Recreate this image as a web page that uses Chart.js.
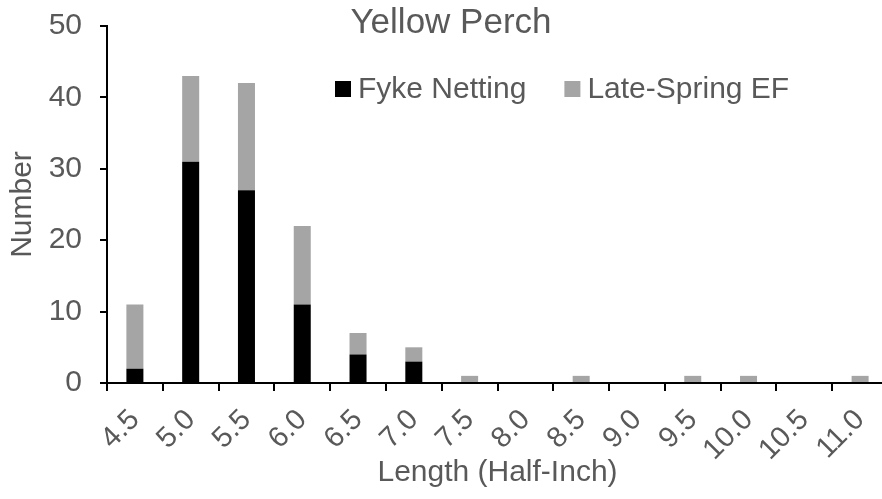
<!DOCTYPE html>
<html>
<head>
<meta charset="utf-8">
<script src="https://cdn.jsdelivr.net/npm/chart.js@4/dist/chart.umd.min.js"></script>
<style>
    html, body { margin: 0; padding: 0; background: #fff; }
    #wrap { width: 882px; height: 499px; overflow: hidden; }
    canvas { display: block; }
</style>
</head>
<body>
<div id="wrap"><canvas id="perchChart" width="888" height="499"></canvas></div>
<script>
const lengths = ['4.5', '5.0', '5.5', '6.0', '6.5', '7.0', '7.5', '8.0', '8.5', '9.0', '9.5', '10.0', '10.5', '11.0'];
const fykeNetting = [2, 31, 27, 11, 4, 3, 0, 0, 0, 0, 0, 0, 0, 0];
const lateSpringEF = [9, 12, 15, 11, 3, 2, 1, 0, 1, 0, 1, 1, 0, 1];
const yTicks = [0, 10, 20, 30, 40, 50];

const TEXT = '#595959';
const FONT = '"Liberation Sans", Arial, sans-serif';

// title + legend sit inside the plot area, so draw them by hand
const overlay = {
    id: 'overlay',
    afterDraw(chart) {
        const ctx = chart.ctx;
        ctx.save();
        ctx.fillStyle = TEXT;
        ctx.font = '35px ' + FONT;
        ctx.textAlign = 'center';
        ctx.textBaseline = 'alphabetic';
        ctx.fillText('Yellow Perch', 451, 33);

        ctx.font = '30px ' + FONT;
        ctx.textAlign = 'left';
        let x = 335;
        chart.data.datasets.forEach(ds => {
            ctx.fillStyle = ds.backgroundColor;
            ctx.fillRect(x, 81, 16, 16);
            ctx.fillStyle = TEXT;
            ctx.fillText(ds.label, x + 23, 98);
            x += 23 + ctx.measureText(ds.label).width + 38;
        });
        ctx.restore();
    }
};

new Chart(document.getElementById('perchChart'), {
    type: 'bar',
    data: {
        labels: lengths,
        datasets: [
            {
                label: 'Fyke Netting',
                data: fykeNetting,
                backgroundColor: '#000000',
                barPercentage: 0.305,
                categoryPercentage: 1.0
            },
            {
                label: 'Late-Spring EF',
                data: lateSpringEF,
                backgroundColor: '#a5a5a5',
                barPercentage: 0.305,
                categoryPercentage: 1.0
            }
        ]
    },
    options: {
        responsive: false,
        animation: false,
        devicePixelRatio: 1,
        layout: { padding: { top: 26, right: 0, left: 0, bottom: 0 } },
        plugins: {
            legend: { display: false },
            title: { display: false },
            tooltip: { enabled: false }
        },
        scales: {
            x: {
                stacked: true,
                grid: {
                    offset: true,
                    drawOnChartArea: false,
                    drawTicks: true,
                    tickLength: 8,
                    tickColor: '#000',
                    lineWidth: 2
                },
                border: { color: '#000', width: 2 },
                ticks: {
                    color: TEXT,
                    font: { family: FONT, size: 29 },
                    maxRotation: 45,
                    minRotation: 45,
                    padding: 12,
                    autoSkip: false
                },
                title: {
                    display: true,
                    text: 'Length (Half-Inch)',
                    color: TEXT,
                    font: { family: FONT, size: 30 },
                    padding: { top: 0, bottom: 8 }
                },
                afterFit(scale) {
                    scale.height = 116;
                    scale.paddingLeft = 0;
                    scale.paddingRight = 0;
                }
            },
            y: {
                stacked: true,
                min: 0,
                max: 50,
                afterBuildTicks(scale) { scale.ticks = yTicks.map(v => ({ value: v })); },
                grid: {
                    drawOnChartArea: false,
                    drawTicks: true,
                    tickLength: 7,
                    tickColor: '#000',
                    lineWidth: 2
                },
                border: { color: '#000', width: 2 },
                ticks: {
                    color: TEXT,
                    font: { family: FONT, size: 30 },
                    padding: 18
                },
                title: {
                    display: true,
                    text: 'Number',
                    color: TEXT,
                    font: { family: FONT, size: 30 },
                    padding: { top: 5, bottom: 0 }
                },
                afterFit(scale) {
                    scale.width = 107;
                    scale.paddingTop = 0;
                    scale.paddingBottom = 0;
                }
            }
        }
    },
    plugins: [overlay]
});
</script>
</body>
</html>
